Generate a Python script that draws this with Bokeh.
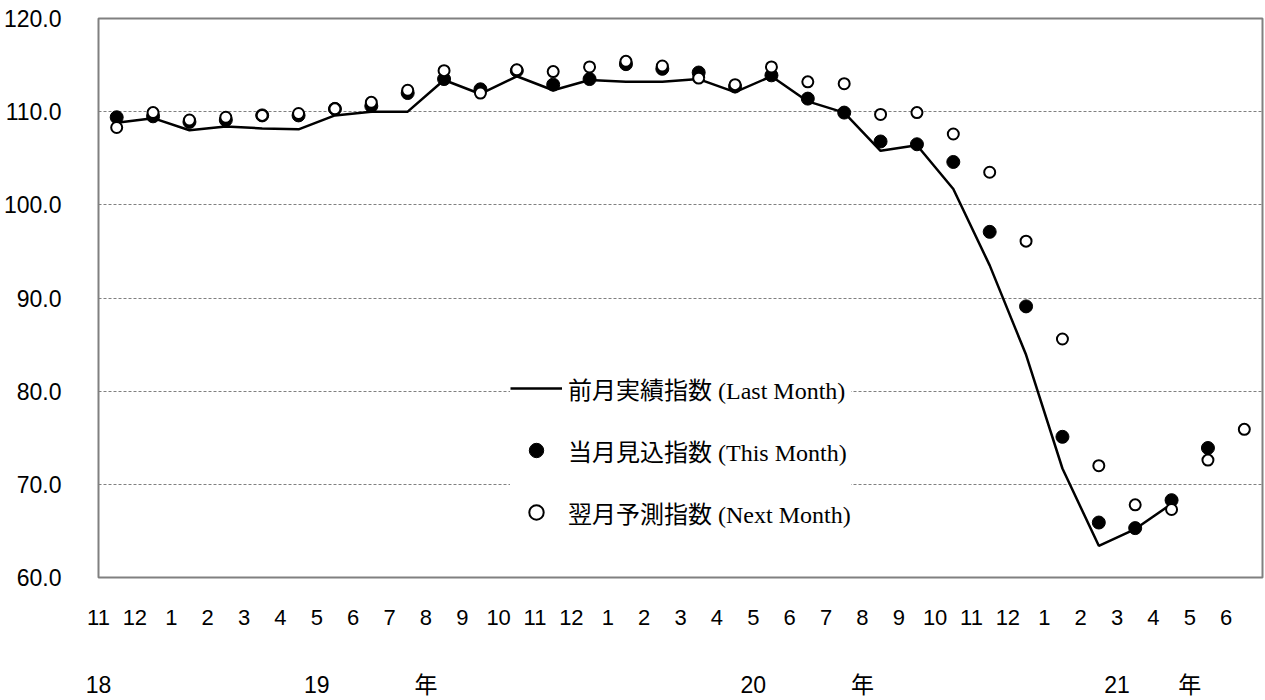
from bokeh.plotting import figure
from bokeh.models import (Range1d, FixedTicker, LinearAxis, Legend, LegendItem,
                          PrintfTickFormatter, Grid, ColumnDataSource)
from bokeh.embed import file_html
from bokeh.resources import INLINE

# ---- data ----
months = ["11", "12", "1", "2", "3", "4", "5", "6", "7", "8", "9", "10", "11", "12",
          "1", "2", "3", "4", "5", "6", "7", "8", "9", "10", "11", "12",
          "1", "2", "3", "4", "5", "6"]
year_labels = ["18", "19", "年", "20", "年", "21", "年"]
year_label_month_index = [0, 6, 9, 18, 21, 28, 30]

last_month = [108.8, 109.3, 108.0, 108.4, 108.2, 108.1, 109.6, 110.0, 110.0, 113.4,
              111.9, 113.8, 112.3, 113.4, 113.2, 113.2, 113.5, 112.1, 113.8, 111.1,
              109.9, 105.8, 106.4, 101.7, 93.5, 83.9, 71.7, 63.4, 65.2, 67.9]
this_month = [109.4, 109.5, 108.9, 109.1, 109.6, 109.6, 110.3, 110.6, 112.0, 113.5,
              112.4, 114.4, 112.9, 113.5, 115.1, 114.6, 114.2, 112.7, 113.9, 111.4,
              109.9, 106.8, 106.5, 104.6, 97.1, 89.1, 75.1, 65.9, 65.3, 68.3, 73.9]
next_month = [108.3, 109.9, 109.1, 109.4, 109.6, 109.8, 110.3, 111.0, 112.3, 114.4,
              112.0, 114.5, 114.3, 114.8, 115.4, 114.9, 113.6, 112.9, 114.8, 113.2,
              113.0, 109.7, 109.9, 107.6, 103.5, 96.1, 85.6, 72.0, 67.8, 67.3, 72.6, 75.9]
y_ticks = [60, 70, 80, 90, 100, 110, 120]
grid_ticks = [70, 80, 90, 100, 110]

legend_labels = ["前月実績指数 (Last Month)", "当月見込指数 (This Month)", "翌月予測指数 (Next Month)"]


def centers(vals):
    return [i + 0.5 for i in range(len(vals))]


src_last = ColumnDataSource(dict(x=centers(last_month), y=last_month))
src_this = ColumnDataSource(dict(x=centers(this_month), y=this_month))
src_next = ColumnDataSource(dict(x=centers(next_month), y=next_month))

p = figure(width=1265, height=700, x_range=Range1d(0, len(months)), y_range=Range1d(60, 120),
           output_backend="svg", toolbar_location=None, x_axis_type=None, y_axis_type=None,
           min_border_left=98, min_border_right=3, min_border_top=18, min_border_bottom=123)
p.outline_line_color = "#808080"
p.outline_line_width = 2
p.background_fill_color = "white"
p.border_fill_color = "white"

yaxis = LinearAxis(ticker=FixedTicker(ticks=y_ticks), formatter=PrintfTickFormatter(format="%.1f"),
                   axis_line_color=None, major_tick_line_color=None, minor_tick_line_color=None,
                   major_label_standoff=31, major_label_text_font="Liberation Sans",
                   major_label_text_font_size="23px", major_label_text_color="black")
p.add_layout(yaxis, "left")

grid = Grid(dimension=1, ticker=FixedTicker(ticks=grid_ticks), grid_line_dash="3 2",
            grid_line_color="#808080", grid_line_width=1)
p.add_layout(grid)

month_axis = LinearAxis(ticker=FixedTicker(ticks=list(range(len(months)))),
                        major_label_overrides={i: m for i, m in enumerate(months)},
                        axis_line_color=None, major_tick_line_color=None, minor_tick_line_color=None,
                        major_label_standoff=26, major_label_text_font="Liberation Sans",
                        major_label_text_font_size="22px", major_label_text_align="left",
                        major_label_text_color="black")
p.add_layout(month_axis, "below")

year_axis = LinearAxis(ticker=FixedTicker(ticks=year_label_month_index),
                       major_label_overrides={i: y for i, y in zip(year_label_month_index, year_labels)},
                       axis_line_color=None, major_tick_line_color=None, minor_tick_line_color=None,
                       major_label_standoff=38, major_label_text_font="Liberation Sans, Noto Sans CJK JP",
                       major_label_text_font_size="23px", major_label_text_align="left",
                       major_label_text_color="black")
p.add_layout(year_axis, "below")

r_last = p.line("x", "y", source=src_last, line_color="black", line_width=2.5)
r_this = p.scatter("x", "y", source=src_this, marker="circle", size=13,
                   fill_color="black", line_color="black")
r_next = p.scatter("x", "y", source=src_next, marker="circle", size=11,
                   fill_color="white", line_color="black", line_width=2)

legend = Legend(items=[LegendItem(label=legend_labels[0], renderers=[r_last]),
                       LegendItem(label=legend_labels[1], renderers=[r_this]),
                       LegendItem(label=legend_labels[2], renderers=[r_next])],
                location=(412, 47), glyph_width=52, glyph_height=36, label_height=36,
                spacing=26, padding=40, label_standoff=6, margin=0,
                label_text_font="Liberation Serif, Noto Sans CJK JP", label_text_font_size="24px",
                label_text_color="black",
                background_fill_color="white", background_fill_alpha=1, border_line_color=None)
p.add_layout(legend, "center")

open("out.html", "w").write(file_html(p, INLINE))
